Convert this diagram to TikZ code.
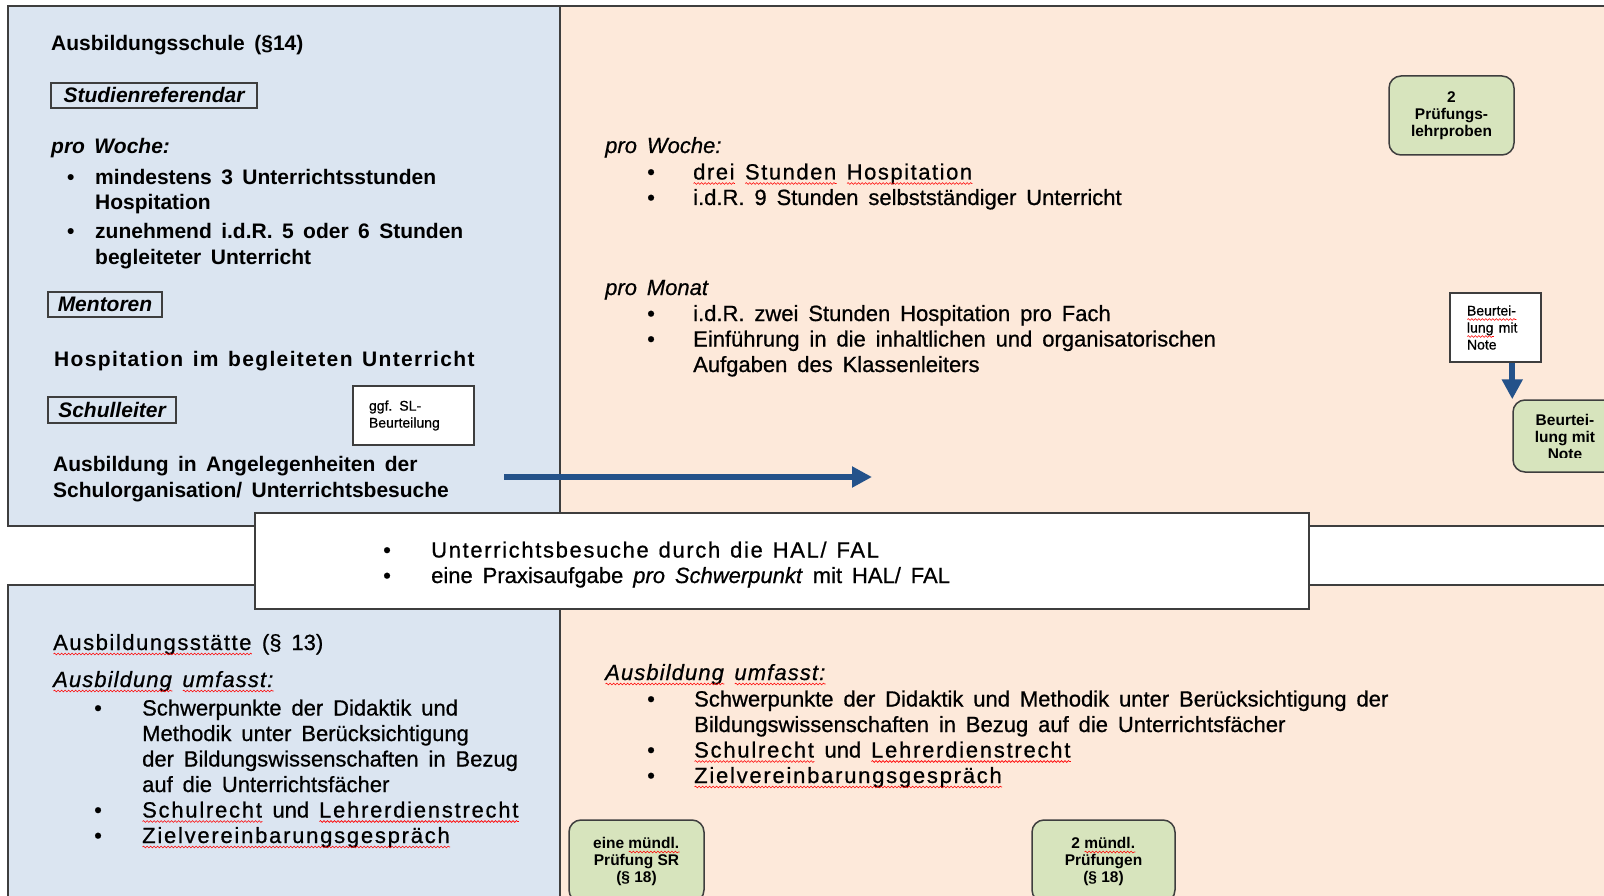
\documentclass[tikz,border=0pt]{standalone}
\usepackage{fontspec}
\setmainfont{Liberation Sans}[UprightFeatures={FakeBold=0.7}, ItalicFeatures={FakeBold=0.7}]
\usepackage{xcolor}
\usetikzlibrary{arrows.meta,decorations.pathmorphing}

\definecolor{schoolblue}{RGB}{219,229,241}
\definecolor{seminarpeach}{RGB}{253,233,218}
\definecolor{examgreen}{RGB}{215,228,189}
\definecolor{flowblue}{RGB}{36,82,138}
\definecolor{rimgray}{RGB}{62,62,62}

\newsavebox\spellbox
\newcommand\spell[2][7]{\sbox\spellbox{\addfontfeature{LetterSpace=#1}#2}\leavevmode\rlap{\usebox\spellbox}\tikz[baseline=0pt]\draw[red, sharp corners, line width=0.6pt, decorate, decoration={snake, amplitude=0.9pt, segment length=3.5pt}] (0pt,-4pt) -- (\wd\spellbox,-4pt);}
\newcommand\leftsize{\fontsize{21}{26}\selectfont\bfseries\spaceskip=0.45em}
\newcommand\bodysize{\fontsize{22}{25.5}\selectfont\spaceskip=0.45em}
\newcommand\boxsize{\fontsize{14}{17}\selectfont}
\newcommand\examsize{\fontsize{15.5}{17}\selectfont\bfseries}
\newcommand\itm[1]{\makebox[#1][l]{\textbullet}}

\begin{document}
\begin{tikzpicture}[x=1pt,y=1pt]
\tikzstyle{every node}+=[inner sep=0pt]
\tikzstyle{panel}=[draw=rimgray, line width=1.5pt]
\tikzstyle{txt}=[anchor=base west, align=left, font=\bodysize]
\tikzstyle{lefttxt}=[anchor=base west, align=left, font=\leftsize]
\tikzstyle{rolebox}=[draw=rimgray, line width=1.5pt, font=\leftsize\itshape]
\tikzstyle{notebox}=[draw=rimgray, line width=1.5pt, fill=white, align=left, font=\boxsize]
\tikzstyle{exam}=[draw=rimgray, line width=1.5pt, fill=examgreen, rounded corners=12pt, align=center, font=\examsize]
\tikzstyle{flow}=[draw=flowblue, line width=6pt, -{Triangle[length=20pt,width=20pt]}]
\useasboundingbox (0,0) rectangle (1604,-896);
\clip (0,0) rectangle (1604,-896);
% panels
\draw [panel, fill=schoolblue] (8,-6) rectangle (560,-526);
\draw [panel, fill=seminarpeach] (560,-6) rectangle (1625,-526);
\draw [panel, fill=schoolblue] (8,-585) rectangle (560,-915);
\draw [panel, fill=seminarpeach] (560,-585) rectangle (1625,-915);
% Ausbildungsschule
\node [lefttxt] (schule) at (51,-51) {Ausbildungsschule (§14)};
\node [rolebox, minimum width=206pt, minimum height=25pt] (sref) at (154,-95.5) {Studienreferendar};
\node [lefttxt, font=\leftsize\itshape] (swoche) at (51,-154) {pro Woche:};
\node [lefttxt] (slist) at (67,-265) {\itm{28pt}mindestens 3 Unterrichtsstunden\\ \hspace*{28pt}Hospitation\\[3pt] \itm{28pt}zunehmend i.d.R. 5 oder 6 Stunden\\ \hspace*{28pt}begleiteter Unterricht};
\node [rolebox, minimum width=114pt, minimum height=25pt] (ment) at (105,-304.5) {Mentoren};
\node [lefttxt, font=\leftsize\addfontfeature{LetterSpace=6.5}] (menttxt) at (54,-366) {Hospitation im begleiteten Unterricht};
\node [rolebox, minimum width=128pt, minimum height=26pt] (sl) at (112,-410) {Schulleiter};
\node [notebox, minimum width=121pt, minimum height=59pt, text width=89pt] (slbeurt) at (413.5,-415.5) {ggf. SL-\\Beurteilung};
\node [lefttxt] (slaufg) at (53,-497) {Ausbildung in Angelegenheiten der\\Schulorganisation/ Unterrichtsbesuche};
\coordinate (flowS) at (504,-477);
\coordinate (flowE) at (872,-477);
\draw [flow] (flowS) -- (flowE);
% Seminar oben
\node [txt, font=\bodysize\itshape] (pwoche) at (605,-153) {pro Woche:};
\node [txt] (pwlist) at (647,-205) {\itm{46pt}\spell{drei} \spell{Stunden} \spell{Hospitation}\\ \itm{46pt}i.d.R. 9 Stunden selbstständiger Unterricht};
\node [txt, font=\bodysize\itshape] (pmonat) at (605,-295) {pro Monat};
\node [txt] (pmlist) at (647,-372) {\itm{46pt}i.d.R. zwei Stunden Hospitation pro Fach\\ \itm{46pt}Einführung in die inhaltlichen und organisatorischen\\ \hspace*{46pt}Aufgaben des Klassenleiters};
\node [exam, minimum width=125pt, minimum height=79pt] (lehrpr) at (1451.5,-115.5) {2\\Prüfungs-\\lehrproben};
\node [notebox, minimum width=91pt, minimum height=69pt, text width=57pt] (beurtw) at (1495.5,-327.5) {\spell[0]{Beurtei-}\\\spell[0]{lung} mit\\Note};
\node [exam, minimum width=104pt, minimum height=72pt] (beurtg) at (1565,-436) {};
\begin{scope}
\clip (1513,-400) rectangle (1625,-457);
\node [font=\examsize, align=center, anchor=base] (beurtgtxt) at (1565,-459) {Beurtei-\\lung mit\\Note};
\end{scope}
\draw [flow] (beurtw.south -| beurtg.west) -- (beurtg.north west);
% HAL / FAL
\node [draw=rimgray, line width=1.5pt, fill=white, minimum width=1054pt, minimum height=96pt] (hal) at (782,-561) {};
\node [txt] (hallist) at (383,-583) {\itm{48pt}{\addfontfeature{LetterSpace=7.5}Unterrichtsbesuche durch die HAL/ FAL}\\ \itm{48pt}eine Praxisaufgabe \textit{pro Schwerpunkt} mit HAL/ FAL};
% Ausbildungsstaette
\node [txt] (staette) at (53,-650) {\spell{Ausbildungsstätte} (§ 13)};
\node [txt, font=\bodysize\itshape] (sumf) at (53,-687) {\spell[5]{Ausbildung} \spell[5]{umfasst:}};
\node [txt] (slist2) at (94,-843) {\itm{48pt}Schwerpunkte der Didaktik und\\ \hspace*{48pt}Methodik unter Berücksichtigung\\ \hspace*{48pt}der Bildungswissenschaften in Bezug\\ \hspace*{48pt}auf die Unterrichtsfächer\\ \itm{48pt}\spell[8]{Schulrecht} und \spell[8]{Lehrerdienstrecht}\\ \itm{48pt}\spell[8]{Zielvereinbarungsgespräch}};
% Seminar unten
\node [txt, font=\bodysize\itshape] (pumf) at (605,-680) {\spell[5]{Ausbildung} \spell[5]{umfasst:}};
\node [txt] (plist2) at (647,-783) {\itm{47pt}Schwerpunkte der Didaktik und Methodik unter Berücksichtigung der\\ \hspace*{47pt}Bildungswissenschaften in Bezug auf die Unterrichtsfächer\\ \itm{47pt}\spell[8]{Schulrecht} und \spell[8]{Lehrerdienstrecht}\\ \itm{47pt}\spell[8]{Zielvereinbarungsgespräch}};
\node [exam, minimum width=135pt, minimum height=82pt] (muendsr) at (636.5,-861) {eine \spell[0]{mündl.}\\Prüfung SR\\(§ 18)};
\node [exam, minimum width=143pt, minimum height=82pt] (muendfal) at (1103.5,-861) {2 \spell[0]{mündl.}\\Prüfungen\\(§ 18)};
\end{tikzpicture}
\end{document}
